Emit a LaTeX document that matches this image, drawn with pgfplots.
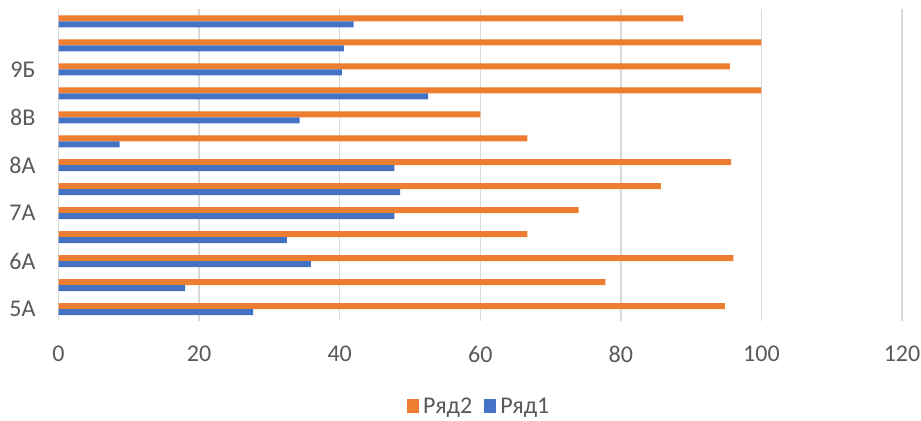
\documentclass[border=0pt]{standalone}
\usepackage{fontspec}
\setmainfont{Carlito}
\usepackage{pgfplots}
\usepackage{pgfplotstable}
\pgfplotsset{compat=1.18}

\definecolor{sorange}{HTML}{ED7D31}
\definecolor{sblue}{HTML}{4472C4}
\definecolor{txt}{HTML}{595959}
\definecolor{grd}{HTML}{D9D9D9}

% classes bottom to top, Ryad1 = blue, Ryad2 = orange
\pgfplotstableread{
cat r1 r2
0 27.7 94.8
1 18.0 77.8
2 35.9 96.0
3 32.5 66.7
4 47.8 74.0
5 48.6 85.7
6 47.8 95.7
7 8.7 66.7
8 34.3 60.0
9 52.6 100
10 40.3 95.5
11 40.6 100
12 42.0 88.9
}\classdata

\begin{document}
\begin{tikzpicture}
\begin{axis}[
    name=ax,
    scale only axis,
    width=421.75pt,
    height=155.75pt,
    xbar,
    bar width=3pt,
    xmin=0, xmax=120,
    ymin=-0.5, ymax=12.5,
    xtick={0,20,...,120},
    ytick={0,2,4,6,8,10},
    yticklabels={5А,6А,7А,8А,8В,9Б},
    major tick length=0pt,
    axis line style={draw=none},
    xmajorgrids=true,
    grid style={line width=0.75pt, draw=grd},
    tick label style={font=\fontsize{12}{14}\selectfont, text=txt},
    /pgf/number format/assume math mode=true,
    xticklabel style={yshift=-9pt},
    yticklabel style={xshift=-8pt},
    legend style={at={(0.5,0)}, anchor=center, yshift=-43pt, draw=none,
        legend columns=-1, font=\fontsize{12}{14}\selectfont, text=txt,
        /tikz/every even column/.append style={column sep=4pt}},
    legend image code/.code={\fill[#1] (0pt,-3pt) rectangle (6pt,4pt);},
]
\addplot[fill=sorange, draw=none, bar shift=1.5pt] table[x=r2, y=cat] {\classdata};
\addlegendentry{Ряд2}
\addplot[fill=sblue, draw=none, bar shift=-1.5pt] table[x=r1, y=cat] {\classdata};
\addlegendentry{Ряд1}
\end{axis}
\pgfresetboundingbox
\path[use as bounding box] ([xshift=-29.25pt,yshift=-50pt]ax.south west) rectangle ([xshift=9.5pt,yshift=4.75pt]ax.north east);
\end{tikzpicture}
\end{document}
